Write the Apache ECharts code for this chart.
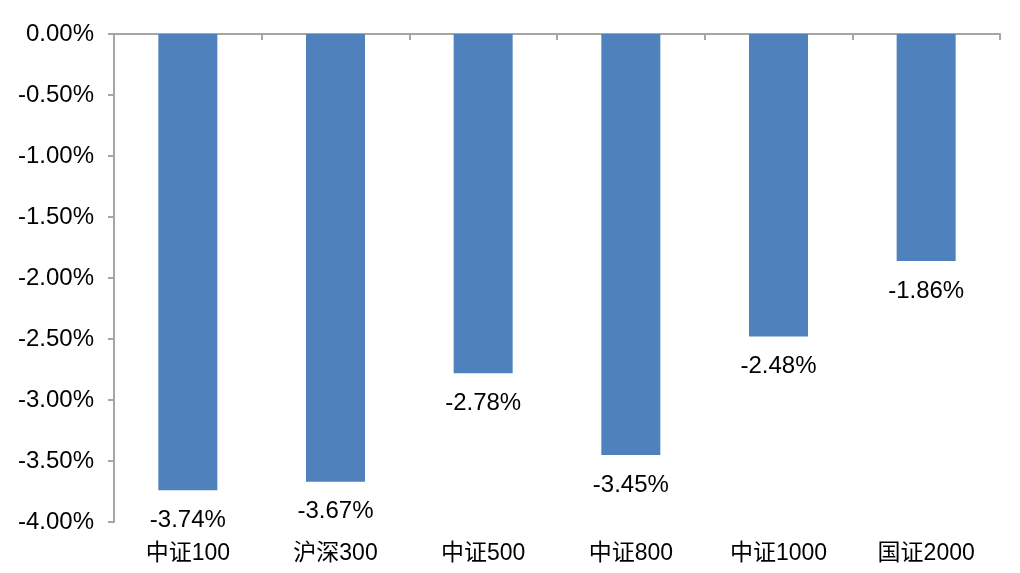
<!DOCTYPE html>
<html>
<head>
<meta charset="utf-8">
<script src="https://cdn.jsdelivr.net/npm/echarts@6/dist/echarts.min.js"></script>
<style>
html,body{margin:0;padding:0;background:#fff;}
#c{width:1020px;height:573px;}
</style>
</head>
<body>
<div id="c"></div>
<script>
const categories = ['中证100', '沪深300', '中证500', '中证800', '中证1000', '国证2000'];
const values = [-3.74, -3.67, -2.78, -3.45, -2.48, -1.86];
const yMin = -4, yMax = 0, yStep = 0.5;

const chart = echarts.init(document.getElementById('c'), null, {renderer: 'canvas'});
const axisGray = '#A6A6A6';
chart.setOption({
  animation: false,
  backgroundColor: '#ffffff',
  grid: {left: 114, right: 20, top: 34, bottom: 51, containLabel: false},
  xAxis: [
    {
      type: 'category', data: categories, position: 'top',
      axisLine: {show: true, onZero: false, lineStyle: {color: axisGray, width: 2}},
      axisTick: {show: true, inside: true, length: 6, lineStyle: {color: axisGray, width: 2}},
      axisLabel: {show: false},
      splitLine: {show: false}
    },
    {
      type: 'category', data: categories, position: 'bottom',
      axisLine: {show: false, onZero: false},
      axisTick: {show: false},
      axisLabel: {show: true, margin: 20, color: '#000', fontSize: 23,
        fontFamily: '"Liberation Sans", "Noto Sans CJK SC", sans-serif'},
      splitLine: {show: false}
    }
  ],
  yAxis: {
    type: 'value', min: yMin, max: yMax, interval: yStep,
    axisLine: {show: true, lineStyle: {color: axisGray, width: 2}},
    axisTick: {show: true, length: 6, lineStyle: {color: axisGray, width: 2}},
    axisLabel: {margin: 20, color: '#000', fontSize: 24,
      fontFamily: '"Liberation Sans", Arial, sans-serif',
      formatter: v => v.toFixed(2) + '%'},
    splitLine: {show: false}
  },
  series: [{
    type: 'bar', xAxisIndex: 0, data: values, barWidth: 59,
    itemStyle: {color: '#4F81BD'},
    label: {show: true, position: 'bottom', distance: 18, color: '#000', fontSize: 24,
      fontFamily: '"Liberation Sans", Arial, sans-serif',
      formatter: p => p.value.toFixed(2) + '%'}
  }]
});
</script>
</body>
</html>
